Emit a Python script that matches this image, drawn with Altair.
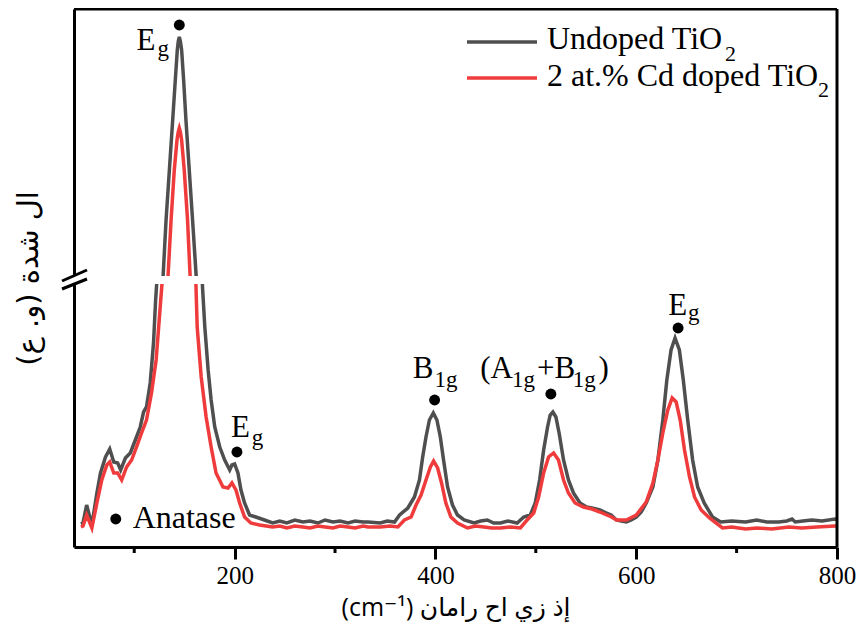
import altair as alt
import pandas as pd

# ---- data (Raman shift in cm-1, intensity in display units; axis is broken) ----
gray_x = [46.9, 48.9, 52.6, 57.8, 62.8, 66.4, 71.4, 75.6, 79.6, 83.5, 86.5, 91.2, 96.1, 101.1, 106, 109.3,
          112.2, 115.9, 119.2, 121.3, 122.7, 128.6, 131.7, 135, 138.3, 140.9, 142.9, 143.9, 144.9, 145.9,
          147.2, 149.2, 151.5, 154.8, 158.1, 161.9, 167.7, 168.0, 170.3, 173.6, 176.6, 180.2, 185.2, 190.1,
          195.1, 197.3, 200, 203.3, 206.3, 209.9, 214.9, 221.1, 229.7, 237.9, 245, 252, 260, 268, 275, 283,
          290, 298, 305, 313, 320, 328, 332.9, 345, 352, 359.3, 364.3, 372.5, 379.1, 384.1, 387.3, 390.6,
          394, 397.9, 401.5, 404.9, 408.1, 412.1, 417, 422, 428.6, 438.5, 445, 451.7, 458, 464.8, 472, 481.4,
          488, 494.5, 499.4, 503.8, 507.8, 511.7, 514.3, 517, 520, 523.2, 527.6, 532.5, 537.5, 544, 550.6,
          556, 563.8, 570.4, 575, 580.3, 585, 590.2, 595, 600.1, 605, 610, 616.6, 621.6, 626.5, 630.5,
          634.7, 638.7, 643, 646.9, 651.3, 656.2, 661.2, 667.7, 676, 684.2, 695, 709, 720, 730, 741.9, 750,
          755.2, 758.4, 766, 774.9, 785, 798, 800]
gray_y = [23, 24, 42, 22, 54, 74, 90, 98, 85, 84, 77, 89, 94, 107, 120, 135,
          140, 164, 204, 247, 268, 268, 327, 377, 427, 467, 497, 506, 510, 506,
          497, 467, 427, 377, 327, 268, 268, 260, 220, 177, 147, 120, 100, 87,
          77, 82, 83, 74, 57, 44, 32, 30, 27, 24, 26, 24, 27, 25, 26, 24,
          27, 25, 26, 24, 26, 25, 25, 24, 26, 25, 32, 39, 50, 67, 90, 110,
          127, 134, 127, 110, 87, 60, 42, 32, 27, 24, 26, 27, 24, 24, 26, 24,
          30, 32, 44, 67, 97, 120, 132, 135, 130, 114, 87, 67, 54, 44, 40,
          39, 37, 34, 32, 27, 26, 25, 27, 30, 35, 44, 60, 87, 127, 167,
          197, 209, 197, 167, 127, 87, 60, 44, 30, 25, 26, 25, 27, 25, 25, 26,
          28, 25, 26, 27, 26, 28, 27]

red_x = [46.9, 49, 52.6, 57.8, 62.8, 67.7, 72.7, 75.6, 79.6, 83.5, 87.5, 92.4, 97.4, 102.3, 107.3, 112.2,
         117.2, 121.8, 125.1, 127.4, 128.1, 133.5, 136.7, 139.9, 142.6, 143.8, 144.9, 146, 147.2, 149.8,
         153.1, 155.8, 161.2, 161.4, 162.7, 166.7, 171.6, 176.6, 181.5, 188.4, 193.4, 197.3, 201.3, 205,
         209.9, 216.1, 224.8, 237.9, 245, 252, 260, 268, 275, 283, 290, 298, 305, 313, 320, 328, 332.9,
         345, 355, 362.6, 369.2, 375.8, 380.7, 385.7, 390.6, 395, 398.2, 402.2, 406.1, 410.4, 415.4, 422,
         431.9, 440, 448.4, 456, 464.8, 475, 484.6, 491.3, 497.9, 502.8, 507.8, 512.7, 517.7, 522.6, 527.6,
         532.5, 539.1, 547.4, 556, 563.8, 575.4, 580.3, 590.2, 600.1, 610, 616.6, 621.6, 626.5, 631.5,
         635.8, 639.8, 643.8, 648.1, 653.1, 658.1, 664.7, 673, 685.9, 695, 709, 720, 735, 752, 765, 780,
         798, 800]
red_y = [20, 21, 32, 19, 44, 67, 82, 85, 74, 74, 67, 80, 87, 100, 114, 127,
         154, 187, 230, 260, 268, 268, 327, 377, 407, 415, 419, 415, 407, 377,
         327, 268, 268, 264, 220, 170, 130, 100, 74, 60, 59, 64, 57, 44,
         30, 24, 22, 20, 21, 19, 21, 20, 19, 21, 20, 19, 21, 20, 19, 21, 20,
         20, 21, 20, 27, 30, 42, 52, 67, 80, 86, 79, 64, 44, 30, 24,
         19, 21, 20, 19, 19, 20, 19, 27, 34, 50, 74, 90, 94, 87, 67,
         54, 44, 40, 38, 35, 30, 27, 27, 32, 45, 64, 87, 114, 137,
         149, 145, 127, 97, 70, 50, 37, 29, 19, 20, 18, 19, 18, 20, 19, 20,
         21, 21]

series_names = ["Undoped TiO2", "2 at.% Cd doped TiO2"]
series_colors = ["#4f4f4f", "#ef3b3b"]

# peak markers
dot_x = [144.9, 202.3, 81.6, 399.2, 515.0, 641.7]
dot_y = [522, 95, 28, 147, 153, 219]

# peak labels (main part and subscript part)
lab_text = ["E", "E", "B", "(A", "+B", ")", "E"]
lab_x = [102.3, 196.4, 377.4, 444.7, 501.1, 562.5, 631.8]
lab_y = [497, 110, 169, 169, 169, 169, 232]
sub_text = ["g", "g", "1g", "1g", "1g", "g"]
sub_x = [123.1, 217.1, 399.2, 476.4, 536.8, 651.6]
sub_y = [491, 102, 160, 160, 160, 227]
anatase_text = ["Anatase"]
anatase_x = [98.4]
anatase_y = [19]

x_ticks = [200, 400, 600, 800]
x_minor = [100, 300, 500, 700]

# ---- build tables ----
rows = []
for i, (xv, yv) in enumerate(zip(gray_x, gray_y)):
    rows.append({"x": xv, "y": yv, "series": series_names[0], "i": i})
for i, (xv, yv) in enumerate(zip(red_x, red_y)):
    rows.append({"x": xv, "y": yv, "series": series_names[1], "i": i})
df = pd.DataFrame(rows)

W, H = 763, 538
xs = alt.Scale(domain=[40, 800], nice=False, zero=False)
ys = alt.Scale(domain=[0, 538], nice=False, zero=False)
SERIF = "Liberation Serif"

x_axis = alt.Axis(values=x_ticks, tickSize=12, tickWidth=3, tickColor="black",
                  domainWidth=3, domainColor="black", grid=False,
                  labelFont=SERIF, labelFontSize=25, labelColor="black", labelPadding=4,
                  labelFlush=False,
                  title="(cm⁻¹) إذ زي اح رامان", titleFont="Open Sans, DejaVu Sans",
                  titleFontSize=25, titleFontWeight="normal", titleColor="black", titlePadding=7)
y_axis = alt.Axis(labels=False, ticks=False, grid=False, domainWidth=3, domainColor="black",
                  title="ال شدة (و. ع)\u200f", titleFont="DejaVu Sans, Open Sans", titleFontSize=29,
                  titleFontWeight="normal", titleColor="black", titlePadding=31)

lines = alt.Chart(df).mark_line(strokeWidth=3.5).encode(
    x=alt.X("x:Q", scale=xs, axis=x_axis),
    y=alt.Y("y:Q", scale=ys, axis=y_axis),
    color=alt.Color("series:N", scale=alt.Scale(domain=series_names, range=series_colors), legend=None),
    detail="series:N",
    order="i:Q",
)

one = pd.DataFrame({"a": [0]})

# gap of the broken axis
gap = alt.Chart(one).mark_rect(color="white").encode(
    x=alt.value(-8), x2=alt.value(215), y=alt.value(267), y2=alt.value(275))
brk1 = alt.Chart(one).mark_rule(color="black", strokeWidth=3).encode(
    x=alt.value(-12), x2=alt.value(13), y=alt.value(272), y2=alt.value(261))
brk2 = alt.Chart(one).mark_rule(color="black", strokeWidth=3).encode(
    x=alt.value(-12), x2=alt.value(13), y=alt.value(280), y2=alt.value(270))

# frame top / right
top = alt.Chart(one).mark_rule(color="black", strokeWidth=3).encode(
    x=alt.value(0), x2=alt.value(W), y=alt.value(0))
right = alt.Chart(one).mark_rule(color="black", strokeWidth=3).encode(
    x=alt.value(W), y=alt.value(0), y2=alt.value(H))

# minor ticks
minor = alt.Chart(pd.DataFrame({"x": x_minor})).mark_rule(color="black", strokeWidth=3).encode(
    x=alt.X("x:Q", scale=xs), y=alt.value(H), y2=alt.value(H + 6))

dots = alt.Chart(pd.DataFrame({"x": dot_x, "y": dot_y})).mark_circle(size=120, color="black", opacity=1).encode(
    x=alt.X("x:Q", scale=xs), y=alt.Y("y:Q", scale=ys))

labs = alt.Chart(pd.DataFrame({"x": lab_x, "y": lab_y, "t": lab_text})).mark_text(
    font=SERIF, fontSize=31, align="left", baseline="alphabetic", color="black").encode(
    x=alt.X("x:Q", scale=xs), y=alt.Y("y:Q", scale=ys), text="t:N")
subs = alt.Chart(pd.DataFrame({"x": sub_x, "y": sub_y, "t": sub_text})).mark_text(
    font=SERIF, fontSize=23, align="left", baseline="alphabetic", color="black").encode(
    x=alt.X("x:Q", scale=xs), y=alt.Y("y:Q", scale=ys), text="t:N")
anat = alt.Chart(pd.DataFrame({"x": anatase_x, "y": anatase_y, "t": anatase_text})).mark_text(
    font=SERIF, fontSize=32, align="left", baseline="alphabetic", color="black").encode(
    x=alt.X("x:Q", scale=xs), y=alt.Y("y:Q", scale=ys), text="t:N")

# manual legend
leg = []
leg_y_line = [33, 69]
leg_y_text = [40, 77]
leg_y_sub = [52, 88]
leg_sub_x = [651, 744]
leg_main = ["Undoped TiO", "2 at.% Cd doped TiO"]
for k in range(2):
    leg.append(alt.Chart(one).mark_rule(color=series_colors[k], strokeWidth=3.5).encode(
        x=alt.value(393), x2=alt.value(463), y=alt.value(leg_y_line[k])))
    leg.append(alt.Chart(one).mark_text(text=leg_main[k], font=SERIF, fontSize=32, align="left",
                                        baseline="alphabetic", color="black").encode(
        x=alt.value(473), y=alt.value(leg_y_text[k])))
    leg.append(alt.Chart(one).mark_text(text="2", font=SERIF, fontSize=22, align="left",
                                        baseline="alphabetic", color="black").encode(
        x=alt.value(leg_sub_x[k]), y=alt.value(leg_y_sub[k])))

chart = alt.layer(lines, gap, brk1, brk2, top, right, minor, dots, labs, subs, anat, *leg).properties(
    width=W, height=H,
    autosize=alt.AutoSizeParams(type="none"),
    padding={"left": 66, "top": 1, "right": 19, "bottom": 84},
).configure_view(stroke=None)

chart.save("out.html", embed_options={"renderer": "svg", "actions": False})
